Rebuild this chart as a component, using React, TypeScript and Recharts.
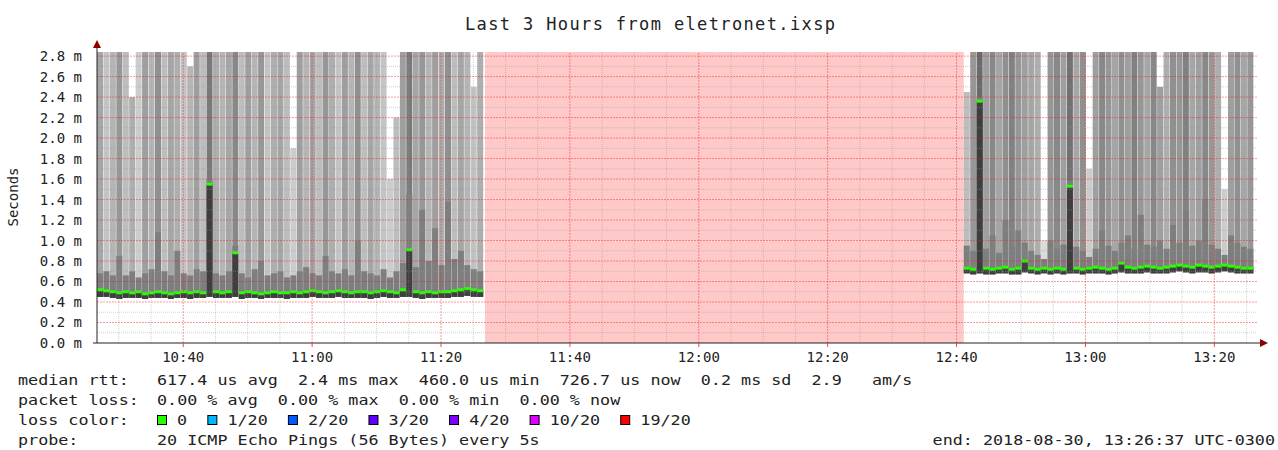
import {
  ComposedChart,
  XAxis,
  YAxis,
  Bar,
  ReferenceArea,
  ReferenceLine,
} from 'recharts';

// minutes of day, 10:26:37 -> 13:26:37
const viewStart = 626.62;
const viewEnd = 806.62;
const leftStart = 627.12;
const rightStart = 761.62;
const outageStart = 686.82;
const outageEnd = 761.12;

const xTicks = [640, 660, 680, 700, 720, 740, 760, 780, 800];
const yTicks = [0, 0.2, 0.4, 0.6, 0.8, 1.0, 1.2, 1.4, 1.6, 1.8, 2.0, 2.2, 2.4, 2.6, 2.8];

// values in ms, one sample per minute
const leftMedian = [
  0.52, 0.51, 0.5, 0.49, 0.5, 0.49, 0.5, 0.48, 0.49, 0.5,
  0.49, 0.48, 0.49, 0.5, 0.49, 0.5, 0.49, 1.55, 0.5, 0.49,
  0.5, 0.88, 0.49, 0.5, 0.49, 0.48, 0.49, 0.5, 0.49, 0.49,
  0.5, 0.49, 0.5, 0.51, 0.5, 0.49, 0.5, 0.51, 0.5, 0.49,
  0.5, 0.5, 0.49, 0.5, 0.51, 0.5, 0.49, 0.52, 0.91, 0.5,
  0.49, 0.5, 0.49, 0.5, 0.5, 0.51, 0.52, 0.53, 0.52, 0.51,
];
const leftMin = [
  0.45, 0.45, 0.44, 0.43, 0.44, 0.44, 0.44, 0.43, 0.44, 0.44,
  0.44, 0.43, 0.44, 0.44, 0.43, 0.44, 0.44, 0.45, 0.44, 0.44,
  0.44, 0.45, 0.43, 0.44, 0.44, 0.43, 0.44, 0.44, 0.44, 0.43,
  0.44, 0.44, 0.44, 0.45, 0.44, 0.44, 0.44, 0.45, 0.44, 0.44,
  0.44, 0.44, 0.43, 0.44, 0.45, 0.44, 0.44, 0.45, 0.45, 0.44,
  0.43, 0.44, 0.44, 0.44, 0.44, 0.45, 0.45, 0.46, 0.45, 0.45,
];
const leftQ3 = [
  0.68, 0.7, 0.66, 0.85, 0.66, 0.7, 0.64, 0.68, 0.72, 1.08,
  0.7, 0.66, 0.9, 0.68, 0.66, 0.72, 0.7, 1.6, 0.68, 0.66,
  0.7, 0.95, 0.68, 0.64, 0.72, 0.8, 0.66, 0.68, 0.7, 0.64,
  0.66, 0.7, 0.74, 0.68, 0.66, 0.85, 0.7, 0.68, 0.72, 0.66,
  1.0, 0.7, 0.68, 0.66, 0.72, 0.64, 0.7, 0.78, 1.45, 0.74,
  1.3, 0.8, 1.12, 0.76, 1.38, 0.82, 0.9, 0.76, 0.72, 0.7,
];
const leftMax = [
  2.95, 2.95, 2.95, 2.95, 2.95, 2.4, 2.95, 2.95, 2.95, 2.95,
  2.95, 2.95, 2.95, 2.95, 2.7, 2.95, 2.95, 2.95, 2.95, 2.95,
  2.95, 2.95, 2.95, 2.95, 2.95, 2.95, 2.95, 2.95, 2.95, 2.95,
  1.9, 2.95, 2.95, 2.95, 2.95, 2.95, 2.95, 2.95, 2.95, 2.95,
  2.95, 2.95, 2.95, 2.95, 2.95, 1.6, 2.2, 2.95, 2.95, 2.95,
  2.95, 2.95, 2.95, 2.95, 2.95, 2.95, 2.95, 2.95, 2.5, 2.95,
];
// pings (of 20) slower than 1 ms
const leftSlow = [
  8, 4, 6, 10, 5, 7, 3, 9, 6, 11,
  5, 8, 7, 4, 6, 9, 5, 14, 7, 6,
  8, 12, 5, 9, 6, 10, 4, 7, 8, 5,
  3, 9, 6, 8, 5, 10, 7, 4, 9, 6,
  11, 5, 8, 6, 4, 3, 5, 9, 14, 8,
  10, 6, 9, 7, 11, 5, 8, 6, 4, 7,
];

const rightMedian = [
  0.73, 0.72, 2.36, 0.73, 0.72, 0.73, 0.74, 0.72, 0.73, 0.8,
  0.73, 0.72, 0.73, 0.72, 0.73, 0.72, 1.53, 0.73, 0.72, 0.73,
  0.74, 0.73, 0.72, 0.73, 0.78, 0.74, 0.73, 0.74, 0.75, 0.74,
  0.73, 0.74, 0.75, 0.76, 0.75, 0.74, 0.76, 0.75, 0.74, 0.75,
  0.76, 0.75, 0.74, 0.73, 0.73,
];
const rightMin = [
  0.68, 0.67, 0.68, 0.67, 0.67, 0.68, 0.68, 0.67, 0.67, 0.69,
  0.68, 0.67, 0.68, 0.67, 0.68, 0.67, 0.68, 0.68, 0.67, 0.68,
  0.68, 0.68, 0.67, 0.68, 0.69, 0.68, 0.68, 0.68, 0.69, 0.68,
  0.68, 0.68, 0.69, 0.7, 0.69, 0.68, 0.69, 0.69, 0.68, 0.69,
  0.7, 0.69, 0.68, 0.68, 0.68,
];
const rightQ3 = [
  0.95, 0.9, 2.4, 0.92, 1.05, 0.88, 1.2, 0.94, 1.1, 0.98,
  0.9, 0.86, 0.82, 1.0, 0.92, 0.96, 1.58, 0.94, 0.9, 0.84,
  0.92, 1.1, 0.95, 0.9, 0.98, 1.05, 0.92, 1.25, 0.96, 0.94,
  1.0, 0.92, 1.15, 0.98, 1.3, 0.95, 1.0, 1.4, 0.96, 0.92,
  0.86, 1.05, 0.98, 0.94, 0.92,
];
const rightMax = [
  2.45, 2.95, 2.95, 2.95, 2.95, 2.95, 2.95, 2.95, 2.95, 2.95,
  2.95, 2.95, 1.0, 2.95, 2.95, 2.95, 2.95, 2.95, 2.95, 1.7,
  2.95, 2.95, 2.95, 2.95, 2.95, 2.95, 2.95, 2.95, 2.95, 2.95,
  2.5, 2.95, 2.95, 2.95, 2.95, 2.95, 2.95, 2.95, 2.95, 2.95,
  1.5, 2.95, 2.95, 2.95, 2.95,
];
const rightSlow = [
  5, 10, 16, 9, 12, 8, 11, 13, 10, 9,
  8, 7, 1, 10, 12, 9, 15, 8, 11, 3,
  9, 12, 10, 8, 11, 9, 13, 10, 8, 12,
  9, 7, 11, 10, 13, 8, 9, 12, 10, 7,
  3, 9, 11, 8, 10,
];

const lossColors = [
  { label: '0', color: '#26ff00' },
  { label: '1/20', color: '#00b8ff' },
  { label: '2/20', color: '#0059ff' },
  { label: '3/20', color: '#5e00ff' },
  { label: '4/20', color: '#7e00ff' },
  { label: '10/20', color: '#dd00ff' },
  { label: '19/20', color: '#ff0000' },
];

const rows: any[] = [
  ...leftMedian.map((m, i) => ({
    t: leftStart + i, med: m, lo: leftMin[i], q3: leftQ3[i], hi: leftMax[i], slow: leftSlow[i],
  })),
  ...rightMedian.map((m, i) => ({
    t: rightStart + i, med: m, lo: rightMin[i], q3: rightQ3[i], hi: rightMax[i], slow: rightSlow[i],
  })),
];

const minorX: number[] = [];
for (let m = 630; m <= 805; m += 5) if (m % 20 !== 0) minorX.push(m);
const minorY: number[] = [];
for (let v = 1; v < 28; v += 2) minorY.push(v / 10);

const shade = (n: number) => {
  const v = Math.round(226 - n * 7.5);
  return `rgb(${v},${v},${v})`;
};
const hhmm = (m: number) => `${Math.floor(m / 60)}:${String(Math.round(m % 60)).padStart(2, '0')}`;

// one smoke column: full ping range, upper quartile, median and the median mark
const Smoke = (props: any) => {
  const { x, y, width, height, payload } = props;
  if (!payload || !isFinite(y) || !isFinite(height)) return null;
  const { lo, hi, q3, med, slow } = payload;
  const py = (v: number) => y + (height * (hi - v)) / (hi - lo);
  const bottom = py(lo);
  const qy = py(Math.min(q3, hi));
  const my = py(med);
  return (
    <g>
      <rect x={x} y={y} width={width} height={height} fill={shade(slow)} />
      <rect x={x} y={qy} width={width} height={bottom - qy} fill='#7e7e7e' />
      <rect x={x} y={my} width={width} height={bottom - my} fill='#3e3e3e' />
      <rect x={x} y={my - 1.5} width={width} height={3} fill='#26ff00' />
    </g>
  );
};

const mono = '"DejaVu Sans Mono", monospace';
const cw = 10.07; // legend character pitch

// monospace legend text, stretched to the legend's character pitch
const T = ({ x, y, s, anchor }: { x: number; y: number; s: string; anchor?: string }) => (
  <text
    x={x}
    y={y}
    textAnchor={anchor as any}
    textLength={s.length * cw}
    lengthAdjust='spacingAndGlyphs'
    xmlSpace='preserve'
    style={{ whiteSpace: 'pre' }}
  >
    {s}
  </text>
);

const App = () => {
  return (
    <div style={{ position: 'absolute', left: 0, top: 0, width: 1278, height: 450, background: '#fff' }}>
      <ComposedChart
        width={1278}
        height={450}
        data={rows}
        margin={{ top: 52, right: 21, bottom: 77, left: 0 }}
        barCategoryGap={0}
        barGap={0}
      >
        <XAxis
          dataKey='t'
          type='number'
          domain={[viewStart, viewEnd]}
          allowDataOverflow
          ticks={xTicks}
          interval={0}
          tickFormatter={hhmm}
          height={30}
          tickSize={4}
          tickMargin={5}
          stroke='#222'
          tickLine={{ stroke: '#e44' }}
          tick={{ fontFamily: mono, fontSize: 14, fill: '#222' }}
        />
        <YAxis
          type='number'
          domain={[0, 2.84]}
          allowDataOverflow
          ticks={yTicks}
          interval={0}
          tickFormatter={(v: number) => `${v.toFixed(1)} m`}
          width={97}
          tickLine={false}
          tickMargin={9}
          stroke='#222'
          tick={{ fontFamily: mono, fontSize: 14, fill: '#222' }}
        />
        <ReferenceArea x1={outageStart} x2={outageEnd} y1={0} y2={2.84} fill='#ffc9c9' fillOpacity={1} stroke='none' />
        <Bar
          dataKey={(d: any) => [d.lo, d.hi]}
          shape={Smoke}
          isAnimationActive={false}
        />
        {minorY.map((v) => (
          <ReferenceLine key={'my' + v} y={v} stroke='#999' strokeOpacity={0.45} strokeDasharray='1 1' />
        ))}
        {minorX.map((v) => (
          <ReferenceLine key={'mx' + v} x={v} stroke='#999' strokeOpacity={0.45} strokeDasharray='1 1' />
        ))}
        {yTicks.slice(1).map((v) => (
          <ReferenceLine key={'y' + v} y={v} stroke='#e22' strokeOpacity={0.45} strokeDasharray='2 1' />
        ))}
        {xTicks.map((v) => (
          <ReferenceLine key={'x' + v} x={v} stroke='#e22' strokeOpacity={0.45} strokeDasharray='2 1' />
        ))}
      </ComposedChart>

      <svg width={1278} height={450} style={{ position: 'absolute', left: 0, top: 0, pointerEvents: 'none' }}>
        <line x1={97} y1={52} x2={97} y2={46} stroke='#222' />
        <line x1={93} y1={343} x2={97} y2={343} stroke='#222' />
        <line x1={1257} y1={343} x2={1262} y2={343} stroke='#222' />
        <polygon points='93,48 101,48 97,40' fill='#8b0000' />
        <polygon points='1260,339 1260,347 1268,343' fill='#8b0000' />
        <text x={650} y={30} textAnchor='middle' fontFamily={mono} fontSize={17} fill='#222' textLength={370}>
          Last 3 Hours from eletronet.ixsp
        </text>
        <text transform='rotate(-90 18 197)' x={18} y={197} textAnchor='middle' fontFamily={mono} fontSize={14} fill='#222'>
          Seconds
        </text>
        <g fontFamily={mono} fontSize={14} fill='#222'>
          <T x={18} y={385} s='median rtt:' />
          <T x={157} y={385} s='617.4 us avg  2.4 ms max  460.0 us min  726.7 us now  0.2 ms sd  2.9   am/s' />
          <T x={18} y={405} s='packet loss:' />
          <T x={157} y={405} s='0.00 % avg  0.00 % max  0.00 % min  0.00 % now' />
          <T x={18} y={425} s='loss color:' />
          {lossColors.map((c, i) => {
            const col = lossColors.slice(0, i).reduce((s, p) => s + p.label.length + 4, 0);
            const x = 157 + col * cw;
            return (
              <g key={c.label}>
                <rect x={x + 0.5} y={415.5} width={9} height={9} fill={c.color} stroke='#000' strokeWidth={1} />
                <T x={x + 2 * cw} y={425} s={c.label} />
              </g>
            );
          })}
          <T x={18} y={445} s='probe:' />
          <T x={157} y={445} s='20 ICMP Echo Pings (56 Bytes) every 5s' />
          <T x={1275} y={445} s='end: 2018-08-30, 13:26:37 UTC-0300' anchor='end' />
        </g>
      </svg>
    </div>
  );
};

export default App;
